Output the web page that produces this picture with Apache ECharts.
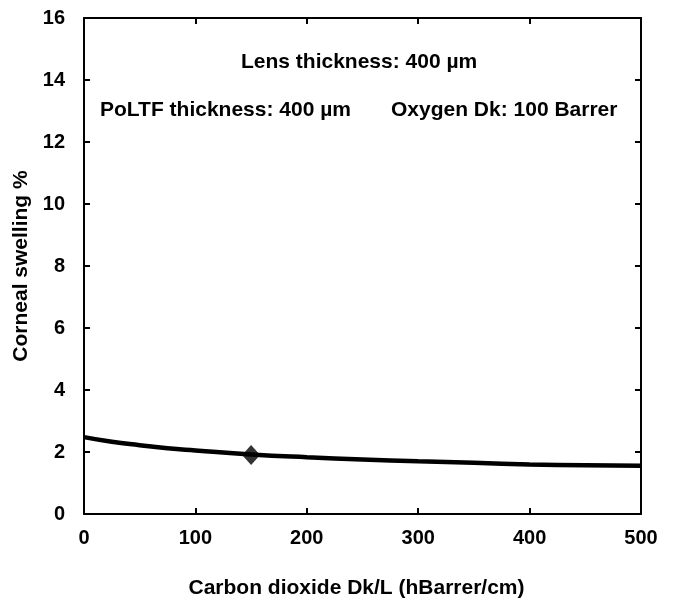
<!DOCTYPE html>
<html><head><meta charset="utf-8">
<script src="https://cdn.jsdelivr.net/npm/echarts@6/dist/echarts.min.js"></script>
<style>html,body{margin:0;padding:0;background:#fff}#c{width:673px;height:601px}</style>
</head><body><div id="c"></div>
<script>
const co2DkL = [0, 25, 50, 75, 100, 150, 200, 250, 300, 350, 400, 450, 500];
const swelling = [2.48, 2.33, 2.22, 2.12, 2.05, 1.92, 1.83, 1.76, 1.70, 1.65, 1.60, 1.57, 1.56];
const markerPoint = [[150, 1.90]];
const annotations = ["Lens thickness: 400 µm", "PoLTF thickness: 400 µm", "Oxygen Dk: 100 Barrer"];
const xTitle = "Carbon dioxide Dk/L (hBarrer/cm)";
const yTitle = "Corneal swelling %";

const F = "Liberation Sans, Arial, sans-serif";
const chart = echarts.init(document.getElementById('c'));
const axisBase = {
  axisLine: {show: true, onZero: false, lineStyle: {color: '#000', width: 2}},
  axisTick: {show: true, inside: true, length: 6, lineStyle: {color: '#000', width: 2}},
  splitLine: {show: false}
};
chart.setOption({
  animation: false,
  grid: {left: 84, right: 32, top: 18, bottom: 87, outerBoundsMode: 'none', containLabel: false},
  xAxis: [
    Object.assign({type: 'value', min: 0, max: 500, interval: 100, position: 'bottom',
      name: xTitle, nameLocation: 'middle', nameGap: 64,
      nameTextStyle: {fontFamily: F, fontWeight: 'bold', fontSize: 21, color: '#000', padding: [0, 12, 0, 0]},
      axisLabel: {fontFamily: F, fontWeight: 'bold', fontSize: 20, color: '#000', margin: 14}}, axisBase),
    Object.assign({type: 'value', min: 0, max: 500, interval: 100, position: 'top',
      axisLabel: {show: false}}, axisBase)
  ],
  yAxis: [
    Object.assign({type: 'value', min: 0, max: 16, interval: 2, position: 'left',
      name: yTitle, nameLocation: 'middle', nameGap: 39, nameRotate: 90,
      nameTextStyle: {fontFamily: F, fontWeight: 'bold', fontSize: 21, color: '#000'},
      axisLabel: {fontFamily: F, fontWeight: 'bold', fontSize: 20, color: '#000', margin: 19}}, axisBase),
    Object.assign({type: 'value', min: 0, max: 16, interval: 2, position: 'right',
      axisLabel: {show: false}}, axisBase)
  ],
  series: [
    {type: 'line', smooth: true, showSymbol: false, data: co2DkL.map((x, i) => [x, swelling[i]]),
      lineStyle: {color: '#000', width: 4.5}},
    {type: 'scatter', data: markerPoint, symbol: 'diamond', symbolSize: [18, 20],
      itemStyle: {color: '#000'}, z: 5}
  ],
  graphic: [
    {type: 'text', left: 241, top: 52, style: {text: annotations[0], font: 'bold 21px ' + F, fill: '#000'}},
    {type: 'text', left: 100, top: 100, style: {text: annotations[1], font: 'bold 21px ' + F, fill: '#000'}},
    {type: 'text', left: 391, top: 100, style: {text: annotations[2], font: 'bold 21px ' + F, fill: '#000'}}
  ]
});
</script></body></html>
